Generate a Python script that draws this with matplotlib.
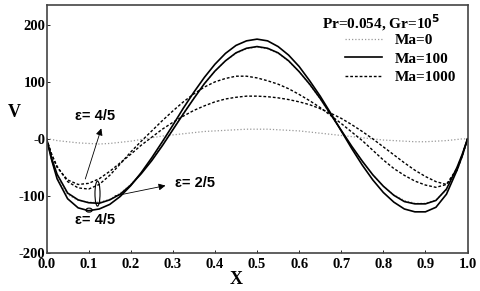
import numpy as np
import matplotlib
matplotlib.use('Agg')
import matplotlib.pyplot as plt
from matplotlib.patches import Ellipse
from matplotlib.lines import Line2D

# values
x = [0, .0125, .025, .05, .075, .1, .125, .15, .175, .2, .225, .25, .275, .3,
     .325, .35, .375, .4, .425, .45, .475, .5, .525, .55, .575, .6, .625, .65,
     .675, .7, .725, .75, .775, .8, .825, .85, .875, .9, .925, .95, .975, .9875, 1.0]

ma100_a = [0, -38, -70, -105, -121, -126, -123, -115, -101, -82, -59, -33, -5, 24,
           54, 82, 108, 131, 150, 164, 172, 175, 172, 162, 147, 127, 102, 75,
           45, 14, -17, -46, -72, -94, -111, -123, -128, -128, -120, -97, -55, -30, 0]
ma100_b = [0, -35, -62, -95, -107, -112, -113, -107, -97, -81, -61, -38, -12, 16,
           44, 71, 97, 119, 137, 151, 159, 162, 159, 151, 137, 118, 96, 71,
           43, 15, -13, -39, -63, -83, -99, -110, -114, -114, -108, -88, -50, -27, 0]
ma1000_a = [0, -28, -48, -75, -86, -88, -80, -64, -44, -23, -4, 14, 32, 49,
            65, 79, 91, 100, 106, 110, 110, 107, 102, 96, 88, 78, 67, 55,
            41, 27, 12, -3, -20, -37, -52, -64, -74, -81, -85, -80, -52, -28, 0]
ma1000_b = [0, -28, -50, -72, -80, -78, -70, -57, -42, -27, -11, 3, 17, 29,
            40, 50, 58, 65, 70, 73, 75, 75, 74, 72, 69, 65, 60, 53,
            45, 36, 25, 13, 0, -14, -28, -42, -55, -66, -75, -80, -55, -30, 0]
ma0_a = [0, -1, -3, -5, -7, -8, -9, -8, -6, -4, -1, 2, 5, 7,
         9, 11, 13, 14, 15, 16, 17, 17, 17, 16, 15, 14, 12, 10,
         8, 6, 4, 2, 0, -2, -3, -4, -5, -5, -4, -3, -1, 0, 0]
ma0_b = [0, -40, -68, -98, -108, -111, -111, -106, -95, -80, -60, -36, -10, 17,
         45, 72, 97, 119, 137, 150, 158, 161, 158, 150, 136, 118, 95, 70,
         42, 14, -14, -40, -63, -83, -98, -108, -113, -113, -107, -90, -55, -30, 0]

xticks = [0.0, 0.1, 0.2, 0.3, 0.4, 0.5, 0.6, 0.7, 0.8, 0.9, 1.0]
yticks = [-200, -100, 0, 100, 200]
ylabels = ['-200', '-100', '-0', '100', '200']

serif = 'Liberation Serif'
sans = 'Liberation Sans'

fig = plt.figure(figsize=(4.8, 2.91), dpi=100)
ax = fig.add_axes([0.097, 0.131, 0.877, 0.852])

dash = (0, (2.0, 1.4))
dots = (0, (1.0, 1.6))
ax.plot(x, ma0_a, color='#999999', lw=0.9, linestyle=dots)
ax.plot(x, ma0_b, color='#999999', lw=0.9, linestyle=dots)
ax.plot(x, ma1000_a, color='black', lw=1.0, linestyle=dash)
ax.plot(x, ma1000_b, color='black', lw=1.0, linestyle=dash)
ax.plot(x, ma100_a, color='black', lw=1.2)
ax.plot(x, ma100_b, color='black', lw=1.2)

ax.set_xlim(0, 1.0)
ax.set_ylim(-200, 235)
ax.set_xticks(xticks)
ax.set_xticklabels(['%.1f' % v for v in xticks])
ax.set_yticks(yticks)
ax.set_yticklabels(ylabels)
ax.tick_params(direction='in', length=2, width=0.6, pad=1)
ax.tick_params(axis='x', pad=4)
for lab in ax.get_xticklabels() + ax.get_yticklabels():
    lab.set_fontfamily(serif)
    lab.set_fontweight('bold')
    lab.set_fontsize(10.5)
for s in ax.spines.values():
    s.set_color('#444444')
    s.set_linewidth(1.2)

ax.set_xlabel('X', fontfamily=serif, fontweight='bold', fontsize=13)
ax.xaxis.set_label_coords(0.45, -0.075)
ax.set_ylabel('V', fontfamily=serif, fontweight='bold', fontsize=13, rotation=0)
ax.yaxis.set_label_coords(-0.076, 0.53)

# legend
ax.text(0.655, 0.905, 'Pr=0.054, Gr=10$^{\\mathbf{5}}$', transform=ax.transAxes,
        fontfamily=serif, fontweight='bold', fontsize=11)
handles = [Line2D([], [], color='#999999', lw=0.9, linestyle=dots),
           Line2D([], [], color='black', lw=1.2),
           Line2D([], [], color='black', lw=1.0, linestyle=dash)]
leg = ax.legend(handles, ['Ma=0', 'Ma=100', 'Ma=1000'], loc='upper right',
                bbox_to_anchor=(0.972, 0.885), frameon=False, handlelength=2.4,
                handletextpad=0.8, labelspacing=0.32, borderpad=0, borderaxespad=0,
                prop={'family': serif, 'weight': 'bold', 'size': 11})

# annotations
ax.annotate('', xy=(0.132, 23), xytext=(0.09, -75),
            arrowprops=dict(arrowstyle='-|>', color='black', lw=0.6, mutation_scale=10))
ax.text(0.115, 40, 'ε= 4/5', fontfamily=sans, fontweight='bold', fontsize=10.5,
        ha='center', va='center')
ax.annotate('', xy=(0.289, -81), xytext=(0.156, -101),
            arrowprops=dict(arrowstyle='-|>', color='black', lw=0.6, mutation_scale=10))
ax.text(0.305, -78, 'ε= 2/5', fontfamily=sans, fontweight='bold', fontsize=10.5,
        ha='left', va='center')
ax.text(0.115, -143, 'ε= 4/5', fontfamily=sans, fontweight='bold', fontsize=10.5,
        ha='center', va='center')
ax.add_patch(Ellipse((0.121, -96), 0.012, 44, fill=False, ec='black', lw=0.8))
ax.add_patch(Ellipse((0.101, -125), 0.015, 7, fill=False, ec='black', lw=0.8))

fig.savefig('out.png', dpi=100)
